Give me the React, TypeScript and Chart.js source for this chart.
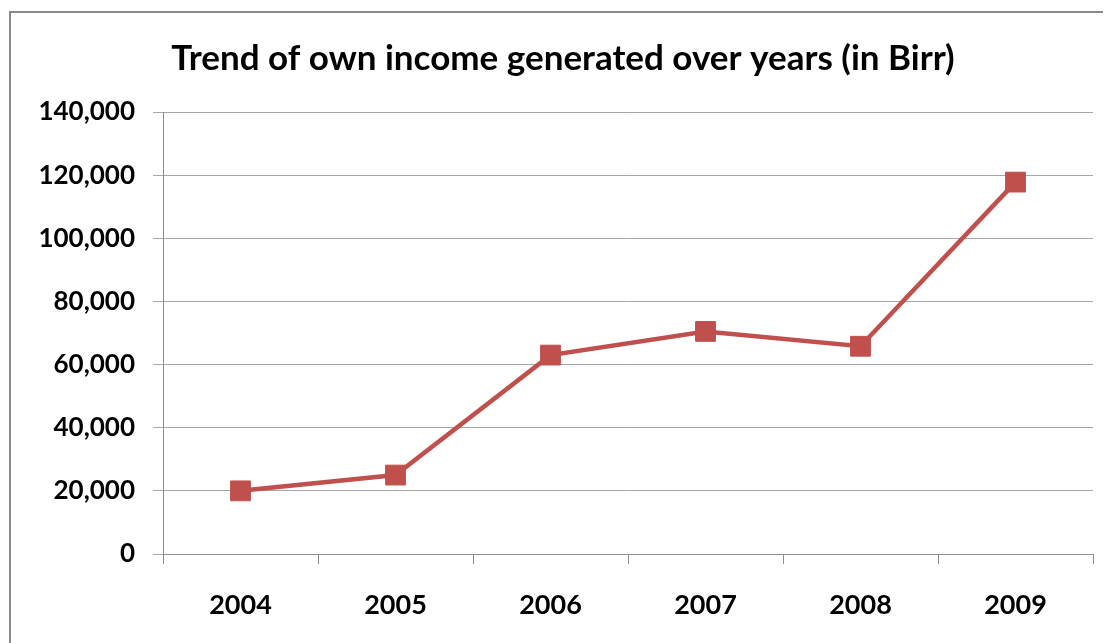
import React, { useEffect, useRef } from "react";
import { Chart, registerables } from "chart.js";

Chart.register(...registerables);

const years = ["2004", "2005", "2006", "2007", "2008", "2009"];
const income = [20000, 25000, 63000, 70500, 65800, 117800];
const titleText = "Trend of own income generated over years (in Birr)";

const borderPlugin = {
  id: "outerBorder",
  beforeDraw(chart: any) {
    const ctx = chart.ctx;
    ctx.save();
    ctx.fillStyle = "#ffffff";
    ctx.fillRect(0, 0, chart.width, chart.height);
    ctx.strokeStyle = "#8a8a8a";
    ctx.lineWidth = 2;
    ctx.strokeRect(2, 4, chart.width + 10, chart.height + 10);
    ctx.restore();
  },
};

export default function App() {
  const ref = useRef<HTMLCanvasElement | null>(null);
  useEffect(() => {
    if (!ref.current) return;
    const chart = new Chart(ref.current, {
      type: "line",
      data: {
        labels: years,
        datasets: [
          {
            data: income,
            borderColor: "#C0504D",
            backgroundColor: "#C0504D",
            borderWidth: 4.5,
            pointStyle: "rect",
            pointRadius: 14,
            pointBorderWidth: 1,
            pointBackgroundColor: "#C0504D",
            pointBorderColor: "#C0504D",
            tension: 0,
          },
        ],
      },
      options: {
        responsive: false,
        animation: false,
        devicePixelRatio: 1,
        layout: { padding: { left: 25, right: 25, top: 0, bottom: 54 } },
        plugins: {
          legend: { display: false },
          tooltip: { enabled: false },
          title: {
            display: true,
            text: titleText,
            color: "#000000",
            font: { family: "Lato", size: 35, weight: "bold" },
            padding: { top: 30, bottom: 32 },
          },
        },
        scales: {
          x: {
            offset: true,
            afterFit: (s: any) => {
              s.height = 60;
            },
            grid: {
              offset: true,
              drawOnChartArea: false,
              drawTicks: true,
              tickLength: 10,
              color: "#8e8e8e",
              lineWidth: 1,
            },
            border: { display: true, color: "#8e8e8e", width: 1 },
            ticks: {
              color: "#000000",
              font: { family: "Lato", size: 27, weight: "bold" },
              padding: 25,
              maxRotation: 0,
            },
          },
          y: {
            min: 0,
            max: 140000,
            afterFit: (s: any) => {
              s.width = 130;
            },
            grid: {
              color: "#a6a6a6",
              lineWidth: 1,
              tickLength: 10,
              drawTicks: true,
            },
            border: { display: true, color: "#8e8e8e", width: 1 },
            ticks: {
              stepSize: 20000,
              color: "#000000",
              font: { family: "Lato", size: 26, weight: "bold" },
              padding: 18,
              callback: (v: any) => Number(v).toLocaleString("en-US"),
            },
          },
        },
      },
      plugins: [borderPlugin],
    });
    return () => chart.destroy();
  }, []);
  return (
    <div style={{ position: "relative", width: 1103, height: 635, overflow: "hidden" }}>
      <canvas
        ref={ref}
        width={1110}
        height={660}
        style={{ position: "absolute", left: 0, top: 0, width: 1110, height: 660 }}
      />
    </div>
  );
}
